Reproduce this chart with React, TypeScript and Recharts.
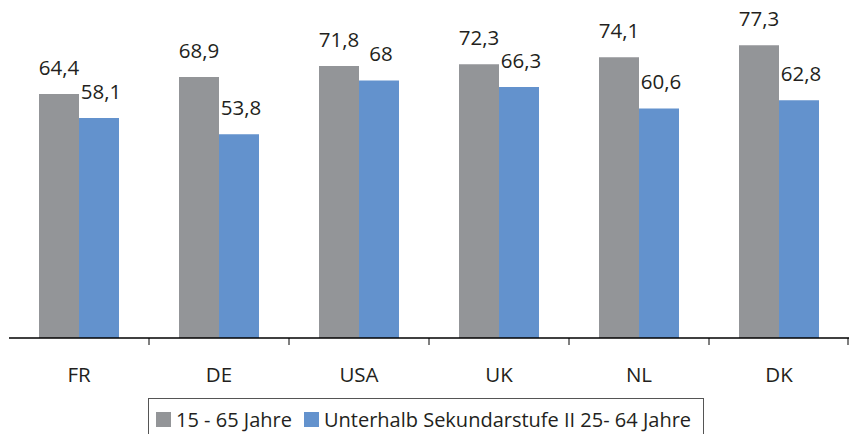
import { BarChart, Bar, XAxis, YAxis, LabelList, Legend } from "recharts";

const laender = ["FR", "DE", "USA", "UK", "NL", "DK"];
const alle1565 = [64.4, 68.9, 71.8, 72.3, 74.1, 77.3];
const unterSekII = [58.1, 53.8, 68, 66.3, 60.6, 62.8];
const serienNamen = ["15 - 65 Jahre", "Unterhalb Sekundarstufe II 25- 64 Jahre"];

const data = laender.map((land, i) => ({
  land,
  alle: alle1565[i],
  unter: unterSekII[i],
}));

const GRAU = "#939598";
const BLAU = "#6392cd";
const TEXT = "#231f20";
const FONT = "'Open Sans', sans-serif";
const W = 849;
const H = 434;
const LEFT = 9;
const BAND = (W - LEFT) / laender.length;

const fmt = (v: number) => String(v).replace(".", ",");

const KategorieTick = (props: any) => {
  const { x, y, payload, index } = props;
  const last = index === laender.length - 1;
  return (
    <g>
      {index > 0 && (
        <line x1={x - BAND / 2} x2={x - BAND / 2} y1={y} y2={y + 7} stroke="#000" />
      )}
      {last && (
        <line x1={x + BAND / 2 - 1} x2={x + BAND / 2 - 1} y1={y} y2={y + 7} stroke="#000" />
      )}
      <text x={x} y={y + 44} textAnchor="middle" fill={TEXT} fontSize={20.5} fontFamily={FONT}>
        {payload.value}
      </text>
    </g>
  );
};

const Legende = () => (
  <div
    style={{
      display: "inline-flex",
      alignItems: "center",
      border: "1px solid #555",
      borderBottom: "none",
      padding: "7px 12px 12px 7px",
      fontFamily: FONT,
      fontSize: 20,
      color: TEXT,
      whiteSpace: "nowrap",
      background: "#fff",
    }}
  >
    {serienNamen.map((name, i) => (
      <span key={name} style={{ display: "inline-flex", alignItems: "center", marginRight: i === 0 ? 12 : 0 }}>
        <span
          style={{
            width: 15,
            height: 15,
            background: i === 0 ? GRAU : BLAU,
            display: "inline-block",
            marginRight: 5,
          }}
        />
        {name}
      </span>
    ))}
  </div>
);

export default function App() {
  return (
    <div style={{ position: "absolute", left: 0, top: 0, width: W, height: H, background: "#fff", overflow: "hidden" }}>
      <BarChart
        width={W}
        height={H}
        data={data}
        margin={{ top: 35, right: 0, left: LEFT, bottom: 0 }}
        barGap={0}
      >
        <YAxis hide domain={[0, 80]} />
        <XAxis
          dataKey="land"
          height={96}
          tickSize={0}
          tickMargin={0}
          tickLine={false}
          axisLine={{ stroke: "#000", strokeWidth: 1.5 }}
          tick={<KategorieTick />}
          interval={0}
        />
        <Legend
          content={<Legende />}
          wrapperStyle={{ position: "absolute", left: 148, top: 398, width: "auto", height: 0 }}
        />
        <Bar dataKey="alle" name={serienNamen[0]} fill={GRAU} barSize={40} isAnimationActive={false}>
          <LabelList dataKey="alle" position="top" offset={19} formatter={(v: any) => fmt(v)} fill={TEXT} fontSize={20.5} fontFamily={FONT} />
        </Bar>
        <Bar dataKey="unter" name={serienNamen[1]} fill={BLAU} barSize={40} isAnimationActive={false}>
          <LabelList dataKey="unter" position="top" offset={19} dx={2} formatter={(v: any) => fmt(v)} fill={TEXT} fontSize={20.5} fontFamily={FONT} />
        </Bar>
      </BarChart>
    </div>
  );
}
